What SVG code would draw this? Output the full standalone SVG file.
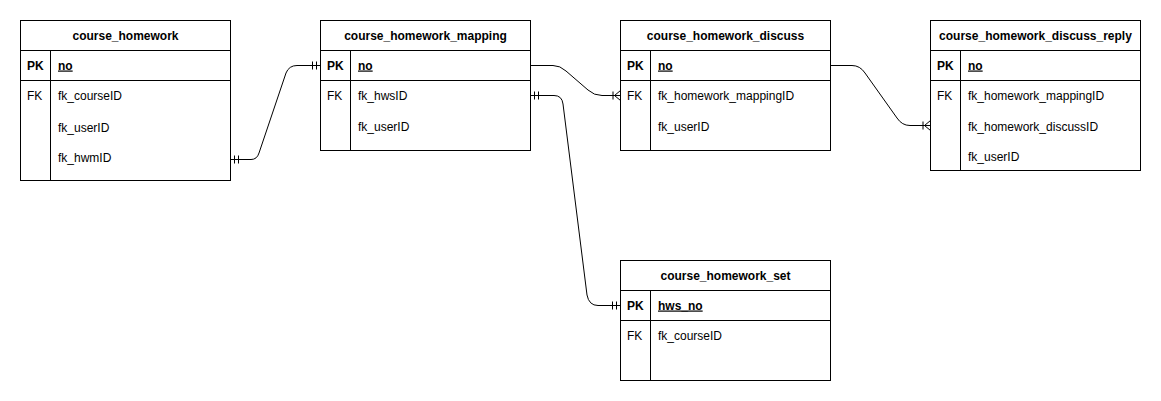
<svg xmlns="http://www.w3.org/2000/svg" width="1161" height="401" viewBox="0 0 1161 401">
<style>
.box{fill:#fff;stroke:#000;stroke-width:1}
.ln{fill:none;stroke:#000;stroke-width:1}
text{font-family:"Liberation Sans",Arial,Helvetica,sans-serif;font-size:12px;fill:#000}
.h{font-weight:bold;text-anchor:middle}
.b{font-weight:bold}
.u{font-weight:bold;text-decoration:underline}
.edge{fill:none;stroke:#000;stroke-width:1}
</style>
<defs>
<marker id="one" markerUnits="userSpaceOnUse" viewBox="0 0 20 20" markerWidth="20" markerHeight="20" refX="20" refY="10" orient="auto-start-reverse">
<path d="M12,6 V14 M16,6 V14" fill="none" stroke="#000" stroke-width="1"/>
</marker>
<marker id="many" markerUnits="userSpaceOnUse" viewBox="0 0 20 20" markerWidth="20" markerHeight="20" refX="20" refY="10" orient="auto">
<path d="M12.5,6 V14 M14,10 L20,5 M14,10 L20,15" fill="none" stroke="#000" stroke-width="1"/>
</marker>
</defs>
<rect width="1161" height="401" fill="#fff"/>

<g id="course_homework">
<rect class="box" x="20.5" y="20.5" width="210" height="160"/>
<path class="ln" d="M20.5,50.5 H230.5 M20.5,80.5 H230.5 M50.5,50.5 V180.5"/>
<text class="h" x="125.5" y="39.5">course_homework</text>
<text class="b" x="27" y="69.5">PK</text>
<text class="u" x="58" y="69.5">no</text>
<text x="27" y="100">FK</text>
<text x="58" y="100">fk_courseID</text>
<text x="58" y="131.5">fk_userID</text>
<text x="58" y="162">fk_hwmID</text>
</g>

<g id="course_homework_mapping">
<rect class="box" x="320.5" y="20.5" width="210" height="130"/>
<path class="ln" d="M320.5,50.5 H530.5 M320.5,80.5 H530.5 M350.5,50.5 V150.5"/>
<text class="h" x="425.5" y="39.5">course_homework_mapping</text>
<text class="b" x="327" y="69.5">PK</text>
<text class="u" x="358" y="69.5">no</text>
<text x="327" y="100">FK</text>
<text x="358" y="100">fk_hwsID</text>
<text x="358" y="131">fk_userID</text>
</g>

<g id="course_homework_discuss">
<rect class="box" x="620.5" y="20.5" width="210" height="130"/>
<path class="ln" d="M620.5,50.5 H830.5 M620.5,80.5 H830.5 M650.5,50.5 V150.5"/>
<text class="h" x="725.5" y="39.5">course_homework_discuss</text>
<text class="b" x="627" y="69.5">PK</text>
<text class="u" x="658" y="69.5">no</text>
<text x="627" y="100">FK</text>
<text x="658" y="100">fk_homework_mappingID</text>
<text x="658" y="131">fk_userID</text>
</g>

<g id="course_homework_discuss_reply">
<rect class="box" x="930.5" y="20.5" width="210" height="150"/>
<path class="ln" d="M930.5,50.5 H1140.5 M930.5,80.5 H1140.5 M960.5,50.5 V170.5"/>
<text class="h" x="1035.5" y="39.5">course_homework_discuss_reply</text>
<text class="b" x="937" y="69.5">PK</text>
<text class="u" x="968" y="69.5">no</text>
<text x="937" y="100">FK</text>
<text x="968" y="100">fk_homework_mappingID</text>
<text x="968" y="131">fk_homework_discussID</text>
<text x="968" y="161">fk_userID</text>
</g>

<g id="course_homework_set">
<rect class="box" x="620.5" y="260.5" width="210" height="120"/>
<path class="ln" d="M620.5,290.5 H830.5 M620.5,320.5 H830.5 M650.5,290.5 V380.5"/>
<text class="h" x="725.5" y="279.5">course_homework_set</text>
<text class="b" x="627" y="309.5">PK</text>
<text class="u" x="658" y="309.5">hws_no</text>
<text x="627" y="340">FK</text>
<text x="658" y="340">fk_courseID</text>
</g>

<g id="connectors">
<path class="edge" d="M230.5,159.5 H251 Q257,159.5 259,153 L286,73 Q289,65.5 297,65.5 H320.5" marker-start="url(#one)" marker-end="url(#one)"/>
<path class="edge" d="M530.5,65.5 H553 Q560,65.5 566,71 L588,90 Q594,95.5 602,95.5 H620.5" marker-end="url(#many)"/>
<path class="edge" d="M830.5,65.5 H852 Q860,65.5 865,73 L897,118 Q902,125.5 910,125.5 H930.5" marker-end="url(#many)"/>
<path class="edge" d="M530.5,95.5 H554 Q562,95.5 563,104 L587,295 Q589,305.5 598,305.5 H620.5" marker-start="url(#one)" marker-end="url(#one)"/>
</g>
</svg>
